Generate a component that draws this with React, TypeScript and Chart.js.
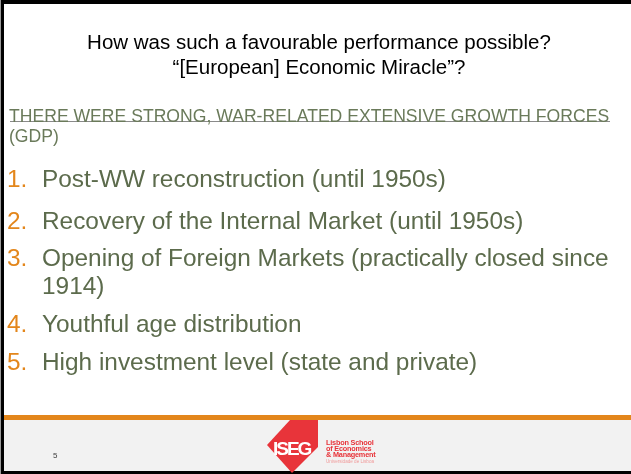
import React, { useEffect, useRef } from "react";
import { Chart, registerables } from "chart.js";

Chart.register(...registerables);

// ---- content ----
const TITLE_LINES = [
  "How was such a favourable performance possible?",
  "\u201C[European] Economic Miracle\u201D?",
];
const INTRO_LINES = [
  "THERE WERE STRONG, WAR-RELATED EXTENSIVE GROWTH FORCES",
  "(GDP)",
];
const ITEM_NUMBERS = ["1.", "2.", "3.", "", "4.", "5."];
const ITEM_LINES = [
  "Post-WW reconstruction (until 1950s)",
  "Recovery of the Internal Market (until 1950s)",
  "Opening of Foreign Markets (practically closed since",
  "1914)",
  "Youthful age distribution",
  "High investment level (state and private)",
];
const PAGE_NUMBER = "5";
const LOGO_MARK = "ISEG";
const LOGO_LINES = ["Lisbon School", "of Economics", "& Management"];
const LOGO_SUB = "Universidade de Lisboa";

// ---- layout (positions / styles) ----
const W = 631;
const H = 474;
const FONT = '"Liberation Sans", Arial, Helvetica, sans-serif';
const TEXT_GREEN = "#5c6b4c";
const ORANGE = "#e3861b";
const LOGO_RED = "#e8343a";
const TITLE_SIZE = 20.5;
const INTRO_SIZE = 17.6;
const ITEM_SIZE = 24.4;
const TITLE_CENTERS = [42.5, 67.5];
const INTRO_CENTERS = [116.5, 136.5];
const ITEM_CENTERS = [179, 221, 258.5, 286.5, 324, 362];
const LOGO_CENTERS = [443, 449, 454.5];

const slidePlugin = {
  id: "slideBackground",
  beforeDraw(chart: any) {
    const ctx = chart.ctx as CanvasRenderingContext2D;
    ctx.save();
    ctx.fillStyle = "#ffffff";
    ctx.fillRect(0, 0, W, H);
    // footer
    ctx.fillStyle = "#f2f2f2";
    ctx.fillRect(0, 420, W, 51);
    ctx.fillStyle = ORANGE;
    ctx.fillRect(0, 415, W, 5);
    // frame
    ctx.fillStyle = "#000000";
    ctx.fillRect(0, 0, W, 4);
    ctx.fillRect(0, 0, 4, H);
    ctx.fillRect(0, 471, W, 3);
    ctx.fillStyle = "#9a9a9a";
    ctx.fillRect(0, 0, 1, H);
    // logo shape
    ctx.fillStyle = LOGO_RED;
    ctx.beginPath();
    ctx.moveTo(290, 420);
    ctx.lineTo(318, 420);
    ctx.lineTo(318, 447);
    ctx.lineTo(292, 473);
    ctx.lineTo(267, 445);
    ctx.closePath();
    ctx.fill();
    // strike line through intro
    ctx.strokeStyle = "#8a8a8a";
    ctx.lineWidth = 1;
    ctx.beginPath();
    ctx.moveTo(10, 121.5);
    ctx.lineTo(610, 121.5);
    ctx.stroke();
    ctx.restore();
  },
};

function Line(props: {
  text: string;
  center: number;
  size: number;
  color: string;
  left?: number;
  centerX?: number;
  weight?: string | number;
  spacing?: number;
}) {
  const { text, center, size, color, left, centerX, weight, spacing } = props;
  const style: React.CSSProperties = {
    position: "absolute",
    top: center - size / 2,
    fontSize: size,
    lineHeight: `${size}px`,
    color,
    whiteSpace: "nowrap",
    fontFamily: FONT,
    fontWeight: weight as any,
    letterSpacing: spacing,
  };
  if (centerX !== undefined) {
    style.left = centerX - 400;
    style.width = 800;
    style.textAlign = "center";
  } else {
    style.left = left;
  }
  return <div style={style}>{text}</div>;
}

export default function App() {
  const ref = useRef<HTMLCanvasElement | null>(null);
  useEffect(() => {
    if (!ref.current) return;
    const chart = new Chart(ref.current, {
      type: "scatter",
      data: { datasets: [] },
      options: {
        responsive: false,
        animation: false,
        devicePixelRatio: 1,
        events: [],
        layout: { padding: 0 },
        plugins: { legend: { display: false }, tooltip: { enabled: false }, title: { display: false } },
        scales: { x: { display: false }, y: { display: false } },
      },
      plugins: [slidePlugin],
    });
    return () => chart.destroy();
  }, []);

  return (
    <div style={{ position: "absolute", left: 0, top: 0, width: W, height: H, overflow: "hidden", fontFamily: FONT }}>
      <canvas ref={ref} width={W} height={H} style={{ position: "absolute", left: 0, top: 0, width: W, height: H, display: "block" }} />
      {TITLE_LINES.map((t, i) => (
        <Line key={"t" + i} text={t} center={TITLE_CENTERS[i]} size={TITLE_SIZE} color="#000000" centerX={319} />
      ))}
      {INTRO_LINES.map((t, i) => (
        <Line key={"in" + i} text={t} center={INTRO_CENTERS[i]} size={INTRO_SIZE} color="#6a7a5a" left={9} />
      ))}
      {ITEM_LINES.map((t, i) => (
        <React.Fragment key={"it" + i}>
          {ITEM_NUMBERS[i] && <Line text={ITEM_NUMBERS[i]} center={ITEM_CENTERS[i]} size={ITEM_SIZE} color={ORANGE} left={7} />}
          <Line text={t} center={ITEM_CENTERS[i]} size={ITEM_SIZE} color={TEXT_GREEN} left={42} />
        </React.Fragment>
      ))}
      <Line text={PAGE_NUMBER} center={456} size={8} color="#404040" left={53} />
      <Line text={LOGO_MARK} center={448} size={19} color="#ffffff" left={273} weight={700} spacing={-2} />
      {LOGO_LINES.map((t, i) => (
        <Line key={"l" + i} text={t} center={LOGO_CENTERS[i]} size={7.3} color={LOGO_RED} left={326} weight={700} spacing={-0.2} />
      ))}
      <Line text={LOGO_SUB} center={462.5} size={4.6} color="#f09a9a" left={326} />
    </div>
  );
}
